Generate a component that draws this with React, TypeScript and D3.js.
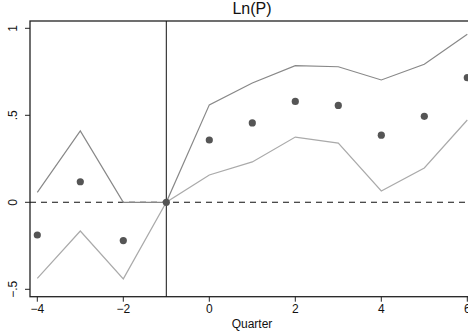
import React from "react";
import * as d3 from "d3";

const quarters = [-4, -3, -2, -1, 0, 1, 2, 3, 4, 5, 6];
const estimate = [-0.188, 0.118, -0.22, 0, 0.358, 0.456, 0.58, 0.557, 0.386, 0.494, 0.716];
const upper = [0.057, 0.41, 0, 0, 0.56, 0.686, 0.785, 0.779, 0.703, 0.793, 0.966];
const lower = [-0.437, -0.165, -0.44, 0, 0.157, 0.232, 0.375, 0.34, 0.065, 0.197, 0.473];
const xTicks = [-4, -2, 0, 2, 4, 6];
const yTicks = [-0.5, 0, 0.5, 1];
const yTickLabels = ["\u2212.5", "0", ".5", "1"];

export default function App() {
  const W = 468, H = 336;
  const left = 30, top = 21, bottom = 296.7, right = 476;
  const x = d3.scaleLinear().domain([-4, 6]).range([37.3, 467.3]);
  const y = d3.scaleLinear().domain([0, 1]).range([202.3, 28.3]);
  const line = d3.line<number>().x((_, i) => x(quarters[i])).y((d) => y(d));
  const font = "'Liberation Sans', Arial, Helvetica, sans-serif";
  return (
    <svg width={W} height={H} style={{ position: "absolute", left: 0, top: 0 }} fontFamily={font}>
      <rect x={0} y={0} width={W} height={H} fill="#fff" />
      <rect x={left} y={top} width={right - left} height={bottom - top} fill="#fff" stroke="#222" strokeWidth={1.3} />
      <line x1={left} x2={right} y1={y(0)} y2={y(0)} stroke="#111" strokeWidth={1.1} strokeDasharray="6,5" />
      <line x1={x(-1)} x2={x(-1)} y1={top} y2={bottom} stroke="#111" strokeWidth={1} />
      <path d={line(upper) || ""} fill="none" stroke="#888" strokeWidth={1.2} />
      <path d={line(lower) || ""} fill="none" stroke="#aaa" strokeWidth={1.2} />
      {estimate.map((v, i) => (
        <circle key={i} cx={x(quarters[i])} cy={y(v)} r={3.6} fill="#555" />
      ))}
      {yTicks.map((t, i) => (
        <g key={t}>
          <line x1={left - 5} x2={left} y1={y(t)} y2={y(t)} stroke="#222" strokeWidth={1} />
          <text transform={`translate(17,${y(t)}) rotate(-90)`} textAnchor="middle" fontSize={12} fill="#111">
            {yTickLabels[i]}
          </text>
        </g>
      ))}
      {xTicks.map((t) => (
        <g key={t}>
          <line x1={x(t)} x2={x(t)} y1={bottom} y2={bottom + 5} stroke="#222" strokeWidth={1} />
          <text x={x(t)} y={313} textAnchor="middle" fontSize={12} fill="#111">
            {t < 0 ? "\u2212" + Math.abs(t) : String(t)}
          </text>
        </g>
      ))}
      <text x={252} y={328} textAnchor="middle" fontSize={12} fill="#111">Quarter</text>
      <text x={252} y={14} textAnchor="middle" fontSize={16} fill="#111">Ln(P)</text>
    </svg>
  );
}
